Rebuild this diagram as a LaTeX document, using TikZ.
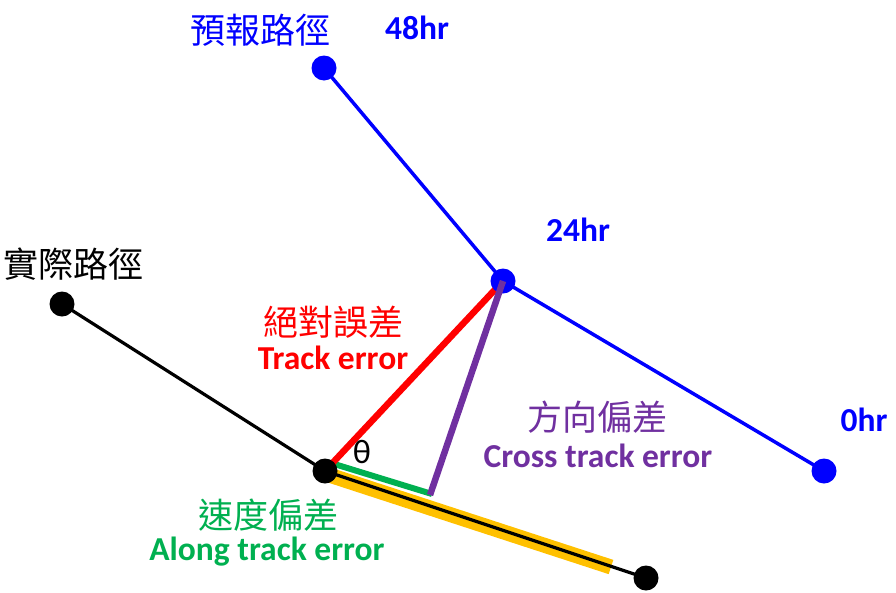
\documentclass[tikz,border=0pt]{standalone}
\usepackage{fontspec}
\setmainfont{Carlito}
\newfontfamily\cjk{Noto Sans CJK TC}
\definecolor{fblue}{RGB}{0,0,255}
\definecolor{ered}{RGB}{255,0,0}
\definecolor{epurple}{RGB}{112,48,160}
\definecolor{egreen}{RGB}{0,176,80}
\definecolor{egold}{RGB}{255,192,0}
\tikzset{
  dotb/.style={circle,fill=fblue,inner sep=0pt,minimum size=25pt},
  dotk/.style={circle,fill=black,inner sep=0pt,minimum size=25pt},
  cjklab/.style={font=\cjk\fontsize{35}{37}\selectfont,inner sep=0pt},
  enlab/.style={font=\bfseries\fontsize{33.5}{35}\selectfont,inner sep=0pt},
}
\begin{document}
\begin{tikzpicture}[x=1pt,y=-1pt]
\useasboundingbox (0,0) rectangle (896,592);
\coordinate (F48) at (324,68);
\coordinate (F24) at (503,281);
\coordinate (F0) at (824,471);
\coordinate (A1) at (62,304);
\coordinate (A0) at (325,471);
\coordinate (A2) at (646,578);
\coordinate (OS) at (326,474);
\coordinate (OE) at (611,567);
\coordinate (GS) at (331,463);
\coordinate (GE) at (432,494);
\coordinate (PE) at (430,495);
% forecast track
\draw[fblue,line width=3.5pt] (F48) -- (F24) -- (F0);
% orange along band
\draw[egold,line width=15pt] (OS) -- (OE);
% actual track
\draw[black,line width=3.2pt] (A1) -- (A0) -- (A2);
% green along error
\draw[egreen,line width=6pt] (GS) -- (GE);
% red track error
\draw[ered,line width=6.5pt] (A0) -- (F24);
% dots
\node[dotb] (n48) at (F48) {};
\node[dotb] (n24) at (F24) {};
\node[dotb] (n0) at (F0) {};
\node[dotk] (a1) at (A1) {};
\node[dotk] (a0) at (A0) {};
\node[dotk] (a2) at (A2) {};
% purple cross error
\draw[epurple,line width=6.5pt] (n24.center) -- (PE);
% labels
\node[cjklab,text=fblue] (t1) at (260,30) {預報路徑};
\node[enlab,text=fblue] (t2) at (417,28) {48hr};
\node[enlab,text=fblue] (t3) at (578,230) {24hr};
\node[enlab,text=fblue] (t4) at (864,420) {0hr};
\node[cjklab,text=black] (t5) at (73,264) {實際路徑};
\node[cjklab,text=ered] (t6) at (333,322) {絕對誤差};
\node[enlab,text=ered] (t7) at (333,358) {Track error};
\node[cjklab,text=epurple] (t8) at (597,417) {方向偏差};
\node[enlab,text=epurple] (t9) at (598,456) {Cross track error};
\node[cjklab,text=egreen] (t10) at (268,515) {速度偏差};
\node[enlab,text=egreen] (t11) at (267,552) {Along track error};
\node[font=\fontsize{34}{36}\selectfont,inner sep=0pt] (th) at (362,452) {θ};
\end{tikzpicture}
\end{document}
